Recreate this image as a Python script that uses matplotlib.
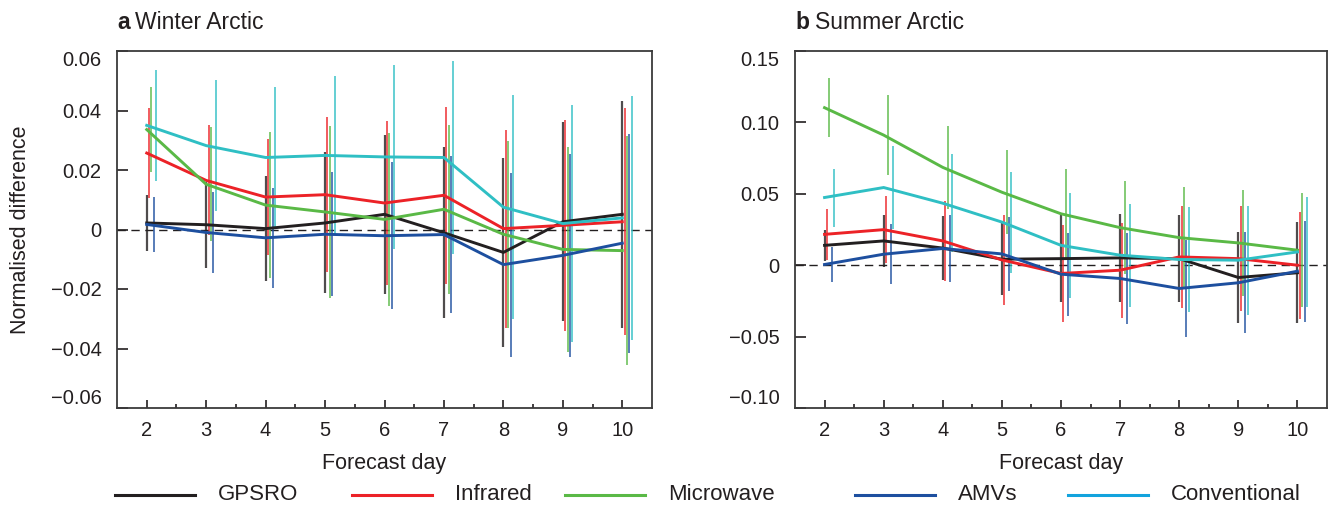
import matplotlib
matplotlib.use("Agg")
import matplotlib.pyplot as plt
from matplotlib.lines import Line2D
import numpy as np

plt.rcParams["font.family"] = ["Liberation Sans", "DejaVu Sans"]

days = [2, 3, 4, 5, 6, 7, 8, 9, 10]
series = ["GPSRO", "Infrared", "Microwave", "AMVs", "Conventional"]

# Winter Arctic: mean normalised difference and error half-widths
winter_gpsro = [0.0022, 0.0016, 0.0003, 0.0022, 0.0051, -0.0011, -0.0077, 0.0026, 0.0051]
winter_infrared = [0.0257, 0.0165, 0.0109, 0.0117, 0.0089, 0.0115, 0.0003, 0.0014, 0.0026]
winter_microwave = [0.0336, 0.0152, 0.0082, 0.0059, 0.0034, 0.0068, -0.0016, -0.0067, -0.0071]
winter_amvs = [0.0017, -0.0010, -0.0028, -0.0016, -0.0021, -0.0017, -0.0118, -0.0087, -0.0046]
winter_conventional = [0.0350, 0.0282, 0.0242, 0.0249, 0.0244, 0.0242, 0.0075, 0.0020, 0.0039]

winter_gpsro_err = [0.0094, 0.0144, 0.0177, 0.0237, 0.0268, 0.0287, 0.0318, 0.0335, 0.0381]
winter_infrared_err = [0.0151, 0.0185, 0.0194, 0.0261, 0.0275, 0.0297, 0.0333, 0.0355, 0.0381]
winter_microwave_err = [0.0144, 0.0192, 0.0246, 0.0288, 0.0292, 0.0284, 0.0315, 0.0344, 0.0384]
winter_amvs_err = [0.0093, 0.0135, 0.0169, 0.0208, 0.0247, 0.0263, 0.0309, 0.0341, 0.0368]
winter_conventional_err = [0.0186, 0.0219, 0.0238, 0.0267, 0.0308, 0.0325, 0.0377, 0.0397, 0.0409]

# Summer Arctic
summer_gpsro = [0.0139, 0.0170, 0.0120, 0.0042, 0.0046, 0.0051, 0.0046, -0.0086, -0.0053]
summer_infrared = [0.0216, 0.0249, 0.0170, 0.0037, -0.0058, -0.0035, 0.0058, 0.0046, 0.0000]
summer_microwave = [0.1103, 0.0911, 0.0685, 0.0511, 0.0360, 0.0263, 0.0193, 0.0156, 0.0105]
summer_amvs = [0.0005, 0.0077, 0.0117, 0.0079, -0.0063, -0.0093, -0.0163, -0.0123, -0.0042]
summer_conventional = [0.0474, 0.0544, 0.0434, 0.0302, 0.0139, 0.0070, 0.0040, 0.0035, 0.0093]

summer_gpsro_err = [0.0109, 0.0184, 0.0222, 0.0251, 0.0304, 0.0308, 0.0304, 0.0316, 0.0353]
summer_infrared_err = [0.0179, 0.0237, 0.0279, 0.0316, 0.0343, 0.0333, 0.0359, 0.0367, 0.0376]
summer_microwave_err = [0.0206, 0.0280, 0.0293, 0.0295, 0.0314, 0.0325, 0.0353, 0.0372, 0.0400]
summer_amvs_err = [0.0122, 0.0211, 0.0238, 0.0261, 0.0290, 0.0319, 0.0337, 0.0355, 0.0354]
summer_conventional_err = [0.0203, 0.0293, 0.0342, 0.0354, 0.0366, 0.0360, 0.0369, 0.0383, 0.0383]

winter_ticks = [-0.06, -0.04, -0.02, 0.0, 0.02, 0.04, 0.06]
winter_ticklabels = ["\u22120.06", "\u22120.04", "\u22120.02", "0", "0.02", "0.04", "0.06"]
summer_ticks = [-0.10, -0.05, 0.0, 0.05, 0.10, 0.15]
summer_ticklabels = ["\u22120.10", "\u22120.05", "0", "0.05", "0.10", "0.15"]

line_colors = ["#231f20", "#ec2227", "#5ab946", "#1d4f9f", "#2fbfc4"]
legend_colors = ["#231f20", "#ec2227", "#5ab946", "#1d4f9f", "#12a3dd"]
err_offsets = [0.0, 0.04, 0.08, 0.12, 0.16]

TXT = "#231f20"
FS = 14.5

fig = plt.figure(figsize=(13.3, 5.07), dpi=100)
ax_w = fig.add_axes([117 / 1330, 1 - 408 / 507, 535 / 1330, 357 / 507])
ax_s = fig.add_axes([795 / 1330, 1 - 408 / 507, 532 / 1330, 357 / 507])


def draw_panel(ax, means, errs, ylim, ticks, ticklabels, letter, title):
    x = np.array(days, dtype=float)
    for m, e, c, off in zip(means, errs, line_colors, err_offsets):
        m = np.array(m)
        e = np.array(e)
        ax.vlines(x + off, m - e, m + e, colors=c, lw=1.6 if c == "#231f20" else 1.3,
                  alpha=0.8, zorder=2)
    for m, c in zip(means, line_colors):
        ax.plot(x, m, color=c, lw=2.1, zorder=3, solid_joinstyle="miter")
    ax.axhline(0, color="#231f20", lw=1.0, ls=(0, (6, 4)), zorder=1)

    ax.set_xlim(1.5, 10.5)
    ax.set_ylim(*ylim)
    ax.set_xticks(days)
    ax.set_xticks(np.arange(2.5, 10.5, 1.0), minor=True)
    ax.set_yticks(ticks)
    ax.set_yticklabels(ticklabels)
    ax.tick_params(axis="both", which="both", direction="in", colors="#231f20",
                   labelsize=FS, labelcolor=TXT, width=1.2)
    ax.tick_params(axis="x", which="major", length=5.5, pad=9)
    ax.tick_params(axis="x", which="minor", length=3)
    ax.tick_params(axis="y", which="major", length=8, pad=11)
    ax.tick_params(axis="y", which="minor", left=False)
    yt = ax.yaxis.get_major_ticks()
    yt[0].label1.set_va("bottom")
    yt[-1].label1.set_va("top")
    for sp in ax.spines.values():
        sp.set_linewidth(1.3)
        sp.set_color("#3a3a3a")
    ax.set_xlabel("Forecast day", fontsize=FS + 1, color=TXT, labelpad=10)

    t = ax.annotate(letter, xy=(0, 1), xycoords="axes fraction", xytext=(0, 16),
                    textcoords="offset points", fontsize=FS + 2, fontweight="bold",
                    color=TXT, ha="left", va="baseline")
    ax.annotate(title, xy=(1, 0), xycoords=t, xytext=(4, 0), textcoords="offset points",
                fontsize=FS + 2, color=TXT, ha="left", va="bottom")


draw_panel(ax_w,
           [winter_gpsro, winter_infrared, winter_microwave, winter_amvs, winter_conventional],
           [winter_gpsro_err, winter_infrared_err, winter_microwave_err, winter_amvs_err,
            winter_conventional_err],
           (-0.06, 0.06), winter_ticks, winter_ticklabels, "a", "Winter Arctic")
draw_panel(ax_s,
           [summer_gpsro, summer_infrared, summer_microwave, summer_amvs, summer_conventional],
           [summer_gpsro_err, summer_infrared_err, summer_microwave_err, summer_amvs_err,
            summer_conventional_err],
           (-0.10, 0.15), summer_ticks, summer_ticklabels, "b", "Summer Arctic")

ax_w.set_ylabel("Normalised difference", fontsize=FS + 1, color=TXT, labelpad=14)

# Legend row along the bottom of the figure
handle_starts = [115, 352, 565, 855, 1068]
leg_y = 1 - 495 / 507
for name, c, xs in zip(series, legend_colors, handle_starts):
    fig.add_artist(Line2D([xs / 1330, (xs + 80) / 1330], [leg_y, leg_y],
                          transform=fig.transFigure, color=c, lw=2.2))
    fig.text((xs + 103) / 1330, leg_y, name, fontsize=FS + 1.5, color=TXT,
             ha="left", va="center")

fig.savefig("out.png", dpi=100, facecolor="white")
